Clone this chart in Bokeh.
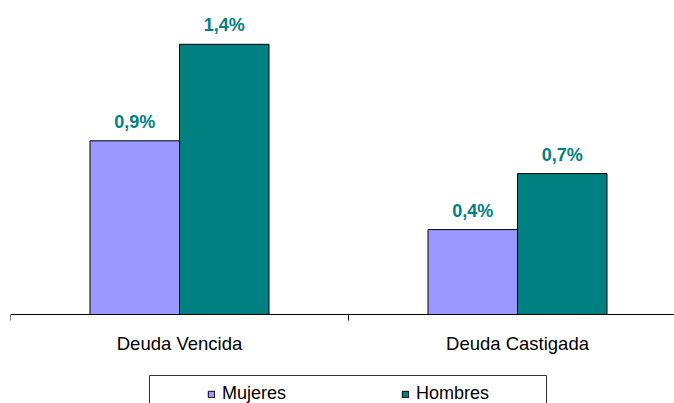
from bokeh.plotting import figure
from bokeh.models import (Range1d, FixedTicker, Legend, LegendItem, BoxAnnotation,
                          ColumnDataSource)
from bokeh.core.properties import value
from bokeh.embed import file_html
from bokeh.resources import INLINE

categories = ["Deuda Vencida", "Deuda Castigada"]
mujeres = [0.9, 0.44]
hombres = [1.4, 0.73]
mujeres_labels = ["0,9%", "0,4%"]
hombres_labels = ["1,4%", "0,7%"]

MUJ_COLOR = "#9999FF"
HOM_COLOR = "#008080"
FONT = "Liberation Sans"

centers = [i + 0.5 for i in range(len(categories))]
bw = 0.2648
off = bw / 2
PX = 193.0  # pixels per 1 %
H = 403
LEFT = 10

p = figure(width=674, height=H, output_backend="svg", toolbar_location=None,
           x_range=Range1d(0, 664 / 338),
           y_range=Range1d(-(H - 314) / PX, (314 - 8) / PX),
           min_border_left=LEFT, min_border_right=0, min_border_top=8,
           min_border_bottom=0)
p.outline_line_color = None
p.grid.visible = False
p.yaxis.visible = False

src_m = ColumnDataSource(dict(x=[c - off for c in centers], top=mujeres, lab=mujeres_labels))
src_h = ColumnDataSource(dict(x=[c + off for c in centers], top=hombres, lab=hombres_labels))

r1 = p.vbar(x="x", top="top", bottom=0, width=bw, source=src_m, fill_color=MUJ_COLOR,
            line_color="black", line_width=1)
r2 = p.vbar(x="x", top="top", bottom=0, width=bw, source=src_h, fill_color=HOM_COLOR,
            line_color="black", line_width=1)

for src in (src_m, src_h):
    p.text(x="x", y="top", text="lab", source=src, text_align="center",
           text_baseline="alphabetic", y_offset=-19, text_color=HOM_COLOR,
           text_font_size="18px", text_font_style="bold", text_font=value(FONT))

ax = p.xaxis[0]
ax.fixed_location = 0
ax.ticker = FixedTicker(ticks=centers, minor_ticks=[0, 1, 2])
ax.major_label_overrides = {c: n for c, n in zip(centers, categories)}
ax.major_tick_out = 0
ax.major_tick_in = 0
ax.minor_tick_out = 6
ax.minor_tick_in = 0
ax.minor_tick_line_color = "black"
ax.axis_line_color = "black"
ax.major_label_text_font = FONT
ax.major_label_text_font_size = "18.5px"
ax.major_label_text_color = "black"
ax.major_label_standoff = 12

legend = Legend(items=[LegendItem(label="Mujeres", renderers=[r1]),
                       LegendItem(label="Hombres", renderers=[r2])],
                orientation="horizontal", location=(197, -1),
                glyph_width=8, glyph_height=8, label_standoff=7,
                label_width=72, label_height=20, spacing=107, padding=0,
                border_line_alpha=0, background_fill_alpha=0,
                label_text_font=FONT, label_text_font_size="18px",
                label_text_color="black")
p.add_layout(legend)

# legend frame (screen x from frame left, screen y from the bottom of the canvas)
box = BoxAnnotation(left=149 - LEFT, right=546 - LEFT, top=H - 375, bottom=-20,
                    left_units="screen", right_units="screen",
                    top_units="screen", bottom_units="screen",
                    fill_alpha=0, line_color="#333333", line_width=1, line_alpha=1)
p.add_layout(box)

open("out.html", "w").write(file_html(p, INLINE))
